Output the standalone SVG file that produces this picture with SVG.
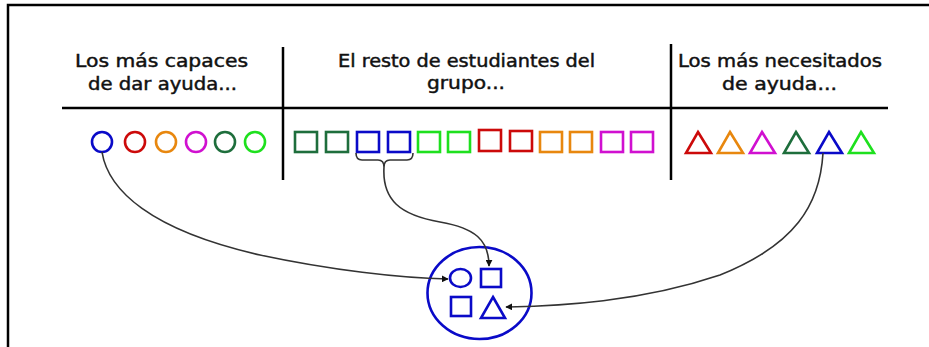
<svg xmlns="http://www.w3.org/2000/svg" width="929" height="347" viewBox="0 0 929 347">
  <defs>
    <marker id="arr" viewBox="0 0 10 10" refX="9" refY="5" markerWidth="7" markerHeight="7" markerUnits="userSpaceOnUse" orient="auto">
      <path d="M0,0 L10,5 L0,10 z" fill="#111"/>
    </marker>
  </defs>
  <style>
    .frame { stroke: #000; stroke-width: 2.5; fill: none; }
    .rule { stroke: #000; stroke-width: 2.5; fill: none; }
    .hdr { font-family: "DejaVu Sans", "Liberation Sans", sans-serif; font-size: 17px; fill: #111; stroke: #111; stroke-width: 0.45; }
    .c { fill: none; stroke-width: 2.6; }
    .conn { fill: none; stroke: #333; stroke-width: 1.6; }
    .blue { stroke: #0a0ac8; }
    .red { stroke: #cc0a0a; }
    .orange { stroke: #e8870e; }
    .mag { stroke: #d010d0; }
    .dkg { stroke: #1e6e3c; }
    .grn { stroke: #1ee01e; }
  </style>
  <rect width="929" height="347" fill="#fff"/>
  <g id="frame">
    <path class="frame" d="M8,347 L8,5 L929,5"/>
    <line class="rule" x1="62" y1="108" x2="888" y2="108"/>
    <line class="rule" x1="283" y1="47" x2="283" y2="180"/>
    <line class="rule" x1="671" y1="44" x2="671" y2="180"/>
  </g>
  <g id="header-capaces">
    <text class="hdr" x="75" y="67" textLength="173" lengthAdjust="spacingAndGlyphs">Los más capaces</text>
    <text class="hdr" x="88" y="90" textLength="149" lengthAdjust="spacingAndGlyphs">de dar ayuda...</text>
  </g>
  <g id="header-resto">
    <text class="hdr" x="338" y="67" textLength="257" lengthAdjust="spacingAndGlyphs">El resto de estudiantes del</text>
    <text class="hdr" x="427" y="89" textLength="78" lengthAdjust="spacingAndGlyphs">grupo...</text>
  </g>
  <g id="header-necesitados">
    <text class="hdr" x="678" y="67" textLength="204" lengthAdjust="spacingAndGlyphs">Los más necesitados</text>
    <text class="hdr" x="722" y="90" textLength="115" lengthAdjust="spacingAndGlyphs">de ayuda...</text>
  </g>
  <g id="circles">
    <circle class="c blue" cx="102" cy="142" r="10"/>
    <circle class="c red" cx="135" cy="142" r="10"/>
    <circle class="c orange" cx="166" cy="142" r="10"/>
    <circle class="c mag" cx="196" cy="142" r="10"/>
    <circle class="c dkg" cx="225" cy="142" r="10"/>
    <circle class="c grn" cx="255" cy="142" r="10"/>
  </g>
  <g id="squares">
    <rect class="c dkg" x="295" y="132" width="22" height="20"/>
    <rect class="c dkg" x="326" y="132" width="22" height="20"/>
    <rect class="c blue" x="357" y="132" width="22" height="20"/>
    <rect class="c blue" x="388" y="132" width="22" height="20"/>
    <rect class="c grn" x="418" y="132" width="22" height="20"/>
    <rect class="c grn" x="448" y="132" width="22" height="20"/>
    <rect class="c red" x="479" y="130" width="22" height="21"/>
    <rect class="c red" x="510" y="131" width="22" height="20"/>
    <rect class="c orange" x="540" y="132" width="22" height="20"/>
    <rect class="c orange" x="570" y="132" width="22" height="20"/>
    <rect class="c mag" x="601" y="132" width="22" height="20"/>
    <rect class="c mag" x="631" y="132" width="22" height="20"/>
  </g>
  <g id="triangles">
    <polygon class="c red" points="698,132 711,153 686,153"/>
    <polygon class="c orange" points="730,132 743,153 718,153"/>
    <polygon class="c mag" points="762,132 775,153 750,153"/>
    <polygon class="c dkg" points="796,132 809,153 784,153"/>
    <polygon class="c blue" points="829,132 842,153 817,153"/>
    <polygon class="c grn" points="861,132 874,153 849,153"/>
  </g>
  <g id="group">
    <ellipse class="c blue" cx="479.5" cy="293" rx="52" ry="46"/>
    <ellipse class="c blue" cx="460.5" cy="278" rx="10.5" ry="9"/>
    <rect class="c blue" x="481" y="269" width="20" height="18"/>
    <rect class="c blue" x="451" y="297" width="20" height="19"/>
    <polygon class="c blue" points="493,297 505,318 481,318"/>
  </g>
  <g id="connectors">
    <path class="conn" d="M356,153 Q356,160 362,160 L378,160 Q384,160 384,167 Q384,160 390,160 L407,160 Q413,160 413,153"/>
    <path class="conn" d="M384,167 C382,200 400,215 440,222 C475,228 489,240 489,266" marker-end="url(#arr)"/>
    <path class="conn" d="M102,152 C108,190 150,230 260,255 C330,270 400,278 448,279" marker-end="url(#arr)"/>
    <path class="conn" d="M823,153 C820,205 795,245 720,275 C640,302 560,306 506,307" marker-end="url(#arr)"/>
  </g>
</svg>
